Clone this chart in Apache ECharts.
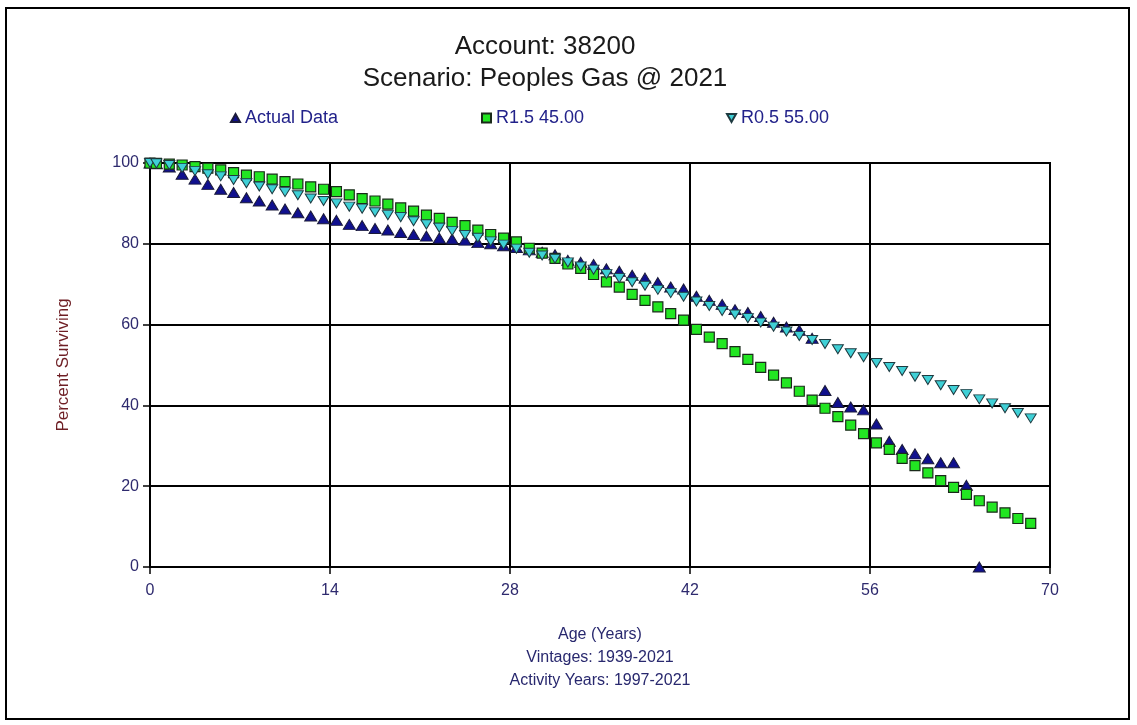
<!DOCTYPE html>
<html>
<head>
<meta charset="utf-8">
<script src="https://cdn.jsdelivr.net/npm/echarts@6/dist/echarts.min.js"></script>
<style>
  html, body { margin: 0; padding: 0; background: #fff; }
  #chart { width: 1137px; height: 725px; }
</style>
</head>
<body>
<div id="chart"></div>
<script>
// Ages (years) at which survival is observed / fitted
const ages = [0, 0.5, 1.5, 2.5, 3.5, 4.5, 5.5, 6.5, 7.5, 8.5, 9.5, 10.5, 11.5, 12.5, 13.5,
  14.5, 15.5, 16.5, 17.5, 18.5, 19.5, 20.5, 21.5, 22.5, 23.5, 24.5, 25.5, 26.5, 27.5,
  28.5, 29.5, 30.5, 31.5, 32.5, 33.5, 34.5, 35.5, 36.5, 37.5, 38.5, 39.5, 40.5, 41.5,
  42.5, 43.5, 44.5, 45.5, 46.5, 47.5, 48.5, 49.5, 50.5, 51.5, 52.5, 53.5, 54.5, 55.5,
  56.5, 57.5, 58.5, 59.5, 60.5, 61.5, 62.5, 63.5, 64.5, 65.5, 66.5, 67.5, 68.5];

// Observed percent surviving (ages 0 .. 64.5)
const actualData = [100, 99.8, 99.0, 97.2, 96.0, 94.7, 93.5, 92.7, 91.4, 90.6, 89.6, 88.6, 87.7, 86.9, 86.2,
  85.8, 84.8, 84.5, 83.8, 83.4, 82.8, 82.3, 81.9, 81.4, 81.2, 80.9, 80.3, 80.0, 79.5,
  79.1, 78.5, 77.9, 77.3, 75.9, 75.4, 74.9, 73.8, 73.2, 72.2, 71.5, 70.4, 69.3, 68.8,
  67.0, 66.0, 65.0, 63.7, 63.0, 62.0, 60.6, 59.4, 58.6, 56.6, 43.7, 40.7, 39.6, 38.9,
  35.4, 31.1, 29.1, 28.0, 26.8, 25.8, 25.8, 20.2, 0];

// Iowa R1.5 curve, 45-year average life
const r15Data = [100, 99.9, 99.7, 99.5, 99.1, 98.7, 98.3, 97.6, 97.0, 96.6, 96.0, 95.4, 94.8, 94.1, 93.5,
  92.9, 92.1, 91.2, 90.6, 89.8, 88.9, 88.1, 87.1, 86.3, 85.3, 84.5, 83.4, 82.3, 81.4,
  80.5, 78.9, 77.7, 76.4, 75.0, 73.9, 72.4, 70.6, 69.3, 67.5, 66.0, 64.4, 62.7, 61.1,
  58.8, 56.9, 55.3, 53.3, 51.4, 49.4, 47.5, 45.6, 43.5, 41.3, 39.3, 37.2, 35.1, 33.0,
  30.7, 29.1, 26.9, 25.1, 23.3, 21.4, 19.7, 18.0, 16.4, 14.8, 13.4, 12.0, 10.8];

// Iowa R0.5 curve, 55-year average life
const r05Data = [100, 99.9, 99.5, 98.8, 98.0, 97.2, 96.7, 95.8, 95.0, 94.2, 93.5, 92.8, 92.0, 91.2, 90.6,
  90.0, 89.2, 88.7, 87.8, 87.1, 86.6, 85.6, 84.8, 84.0, 83.2, 82.2, 81.5, 80.6, 79.8,
  78.8, 77.8, 77.1, 76.3, 75.4, 74.4, 73.6, 72.5, 71.5, 70.5, 69.6, 68.6, 67.8, 66.9,
  65.7, 64.6, 63.4, 62.5, 61.6, 60.5, 59.5, 58.3, 57.2, 56.2, 55.2, 53.9, 52.9, 51.9,
  50.5, 49.5, 48.5, 47.1, 46.3, 45.0, 43.8, 42.8, 41.5, 40.5, 39.3, 38.1, 36.8];

const seriesNames = ['Actual Data', 'R1.5 45.00', 'R0.5 55.00'];
const xTicks = [0, 14, 28, 42, 56, 70];
const yTicks = [0, 20, 40, 60, 80, 100];

const pairs = (vals) => vals.map((v, i) => [ages[i], v]);

const FONT = '"Liberation Sans", Arial, sans-serif';
const labelColor = '#2e2a6e';
const legendText = { color: '#22228a', fontSize: 18, fontFamily: FONT };

// Marker shapes shared by the series and their legend entries
const upTriangle = 'path://M5,0 L10,9 L0,9 Z';
const downTriangle = 'path://M0,0 L10,0 L5,9 Z';

const chart = echarts.init(document.getElementById('chart'), null, { renderer: 'canvas' });

const legendAt = (name, icon, left) => ({
  data: [{ name: name, icon: icon }], left: left, top: 109, padding: 0,
  itemWidth: 9, itemHeight: 9, itemGap: 0, selectedMode: false,
  textStyle: legendText
});

chart.setOption({
  backgroundColor: '#fff',
  animation: false,
  title: {
    text: 'Account: 38200\nScenario: Peoples Gas @ 2021',
    left: 540, top: 26, textAlign: 'center',
    textStyle: { color: '#1a1a1a', fontSize: 26, fontWeight: 'normal', fontFamily: FONT, lineHeight: 32 }
  },
  legend: [
    legendAt(seriesNames[0], upTriangle, 230),
    legendAt(seriesNames[1], 'rect', 481),
    legendAt(seriesNames[2], downTriangle, 726)
  ],
  grid: { left: 150, right: 87, top: 163, bottom: 158, show: true, borderColor: '#000', borderWidth: 2 },
  xAxis: {
    type: 'value', min: xTicks[0], max: xTicks[xTicks.length - 1], interval: 14,
    name: 'Age (Years)\nVintages: 1939-2021\nActivity Years: 1997-2021',
    nameLocation: 'middle', nameGap: 56,
    nameTextStyle: { color: '#28286e', fontSize: 16, fontFamily: FONT, lineHeight: 23, verticalAlign: 'top' },
    axisLine: { show: true, lineStyle: { color: '#000', width: 2 } },
    axisTick: { show: true, length: 7, lineStyle: { color: '#000', width: 1.5 } },
    axisLabel: { margin: 16, color: labelColor, fontSize: 16, fontFamily: FONT },
    splitLine: { show: true, lineStyle: { color: '#000', width: 2 } }
  },
  yAxis: {
    type: 'value', min: yTicks[0], max: yTicks[yTicks.length - 1], interval: 20,
    name: 'Percent Surviving', nameLocation: 'middle', nameGap: 78, nameRotate: 90,
    nameTextStyle: { color: '#6e1e24', fontSize: 17, fontFamily: FONT },
    axisLine: { show: true, lineStyle: { color: '#000', width: 2 } },
    axisTick: { show: true, length: 7, lineStyle: { color: '#000', width: 1.5 } },
    axisLabel: { margin: 11, color: labelColor, fontSize: 16, fontFamily: FONT },
    splitLine: { show: true, lineStyle: { color: '#000', width: 2 } }
  },
  series: [
    {
      name: seriesNames[0], type: 'scatter', data: pairs(actualData),
      symbol: upTriangle, symbolSize: [12, 10],
      itemStyle: { color: '#10108e', borderColor: '#1a1a3a', borderWidth: 1, opacity: 1 }
    },
    {
      name: seriesNames[1], type: 'scatter', data: pairs(r15Data),
      symbol: 'rect', symbolSize: 10,
      itemStyle: { color: '#22e622', borderColor: '#1a2a1a', borderWidth: 1.2, opacity: 1 }
    },
    {
      name: seriesNames[2], type: 'scatter', data: pairs(r05Data),
      symbol: downTriangle, symbolSize: [11, 9],
      itemStyle: { color: '#3fd0d6', borderColor: '#1e3a40', borderWidth: 1, opacity: 1 }
    }
  ],
  graphic: [{
    type: 'rect', silent: true, z: 100,
    shape: { x: 6, y: 8, width: 1123, height: 711 },
    style: { fill: 'none', stroke: '#000', lineWidth: 2 }
  }]
});
</script>
</body>
</html>
